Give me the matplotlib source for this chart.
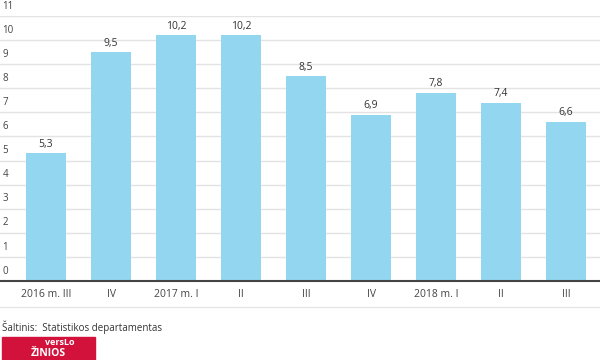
import matplotlib.pyplot as plt
import matplotlib.transforms as mtransforms
from matplotlib.patches import Rectangle

labels = ['2016 m. III', 'IV', '2017 m. I', 'II', 'III', 'IV', '2018 m. I', 'II', 'III']
values = [5.3, 9.5, 10.2, 10.2, 8.5, 6.9, 7.8, 7.4, 6.6]
yticks = list(range(0, 12))

plt.rcParams['font.family'] = ['Open Sans', 'DejaVu Sans']

fig = plt.figure(figsize=(6, 3.6), dpi=100)
ax = fig.add_axes([0, (360 - 281) / 360, 1, (281 - 16) / 360])

xs = list(range(len(values)))
ax.bar(xs, values, width=40 / 65, color='#93d6ef', zorder=3)
for x, v in zip(xs, values):
    ax.text(x, v + 0.15, f'{v:.1f}'.replace('.', ','), ha='center', va='bottom',
            fontsize=7.5, color='#333333')

ax.set_xlim(-46 / 65, (600 - 46) / 65)
ax.set_ylim(0, 11)
ax.set_yticks(yticks)
ax.yaxis.grid(True, color='#e3e3e3', linewidth=1)
ax.set_axisbelow(True)
ax.tick_params(axis='y', length=0, labelleft=False)
trans = mtransforms.blended_transform_factory(ax.transAxes, ax.transData)
for t in yticks:
    ax.text(0.004, t + 0.18, str(t), transform=trans, ha='left', va='bottom',
            fontsize=7, color='#444444')

ax.set_xticks(xs)
ax.set_xticklabels(labels, fontsize=7.5, color='#444444')
ax.tick_params(axis='x', length=0, pad=6)
for s in ['top', 'right', 'left']:
    ax.spines[s].set_visible(False)
ax.spines['bottom'].set_color('#444444')
ax.spines['bottom'].set_linewidth(1.5)
ax.spines['bottom'].set_zorder(4)

# separator and source
fig.add_artist(plt.Line2D([0, 1], [1 - 307 / 360, 1 - 307 / 360], color='#e6e6e6', linewidth=1))
fig.text(2 / 600, 1 - 327 / 360, 'Šaltinis:  Statistikos departamentas', fontsize=7,
         color='#333333', va='center', ha='left')

# logo
fig.add_artist(Rectangle((2 / 600, 0), 93 / 600, 23 / 360, transform=fig.transFigure,
                         color='#d3123c'))
fig.text(60 / 600, 1 - 338 / 360, 'versLo', fontsize=6.5, fontweight='bold',
         color='white', ha='center', va='top')
fig.text(48 / 600, 1 / 360, 'ŽINIOS', fontsize=7.5, fontweight='bold',
         color='white', ha='center', va='bottom')

fig.savefig('out.png', dpi=100)
